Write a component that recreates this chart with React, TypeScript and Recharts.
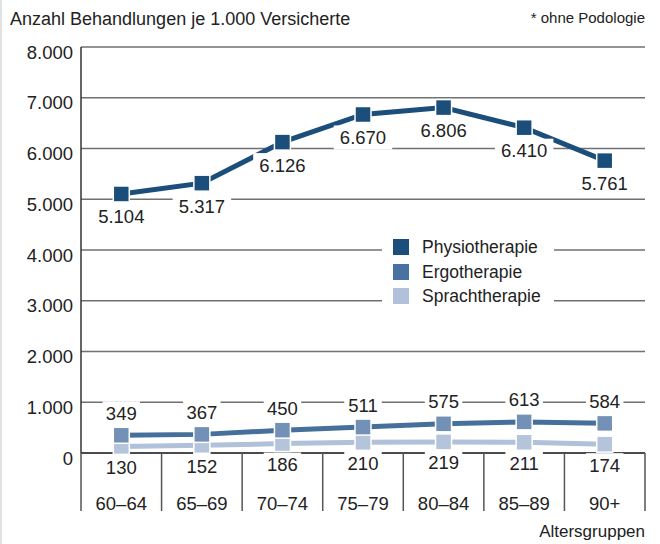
import React from 'react';
import { ComposedChart, Line, XAxis, YAxis, CartesianGrid, LabelList, Legend } from 'recharts';

const categories = ['60–64', '65–69', '70–74', '75–79', '80–84', '85–89', '90+'];
const physio = [5104, 5317, 6126, 6670, 6806, 6410, 5761];
const ergo = [349, 367, 450, 511, 575, 613, 584];
const sprach = [130, 152, 186, 210, 219, 211, 174];
const yTicks = [0, 1000, 2000, 3000, 4000, 5000, 6000, 7000, 8000];
const seriesNames = ['Physiotherapie', 'Ergotherapie', 'Sprachtherapie'];
const titleText = 'Anzahl Behandlungen je 1.000 Versicherte';
const noteText = '* ohne Podologie';
const xAxisTitle = 'Altersgruppen';

const data = categories.map((c, i) => ({ cat: c, physio: physio[i], ergo: ergo[i], sprach: sprach[i] }));

const W = 660;
const H = 544;
const MARGIN = { top: 47, right: 15, bottom: 31, left: 0 };
const Y_W = 81;
const X_H = 60;
const PLOT_W = W - MARGIN.left - MARGIN.right - Y_W;
const BAND = PLOT_W / categories.length;

const FONT = '"Liberation Sans", Arial, sans-serif';
const TXT = '#222';
const C_PHYSIO = '#1b4e7a';
const C_ERGO_LINE = '#46709b';
const C_ERGO_DOT = '#7391b6';
const C_ERGO_LEG = '#4a72a0';
const C_SPRACH_LINE = '#b0c1d9';
const C_SPRACH_DOT = '#b4c4db';

const fmt = (v: number) => String(v).replace(/\B(?=(\d{3})+(?!\d))/g, '.');

const makeDot = (color: string) => (props: any) => {
  const { cx, cy, index } = props;
  if (cx == null || cy == null) return <g key={index} />;
  return (
    <rect key={index} x={cx - 8} y={cy - 8} width={16} height={16} fill={color} stroke="#fff" strokeWidth={1.5} />
  );
};

const makeLabel = (dy: number) => (props: any) => {
  const { x, y, value, index } = props;
  const txt = fmt(Number(value));
  const w = txt.length * 10.5 + 6;
  return (
    <g key={index}>
      <rect x={x - w / 2} y={y + dy - 12} width={w} height={24} fill="#fff" />
      <text x={x} y={y + dy} textAnchor="middle" dominantBaseline="central" fontSize={18.5} fill={TXT} fontFamily={FONT}>
        {txt}
      </text>
    </g>
  );
};

const YTick = (props: any) => {
  const { x, y, payload } = props;
  return (
    <text x={x} y={y + 5} textAnchor="end" dominantBaseline="central" fontSize={18.5} fill={TXT} fontFamily={FONT}>
      {fmt(payload.value)}
    </text>
  );
};

const XTick = (props: any) => {
  const { x, y, payload, index } = props;
  const half = BAND / 2;
  return (
    <g>
      <line x1={x - half} x2={x - half} y1={y} y2={y + 58} stroke="#555" strokeWidth={1.5} />
      {index === categories.length - 1 && (
        <line x1={x + half} x2={x + half} y1={y} y2={y + 58} stroke="#555" strokeWidth={1.5} />
      )}
      <text x={x} y={y + 50} textAnchor="middle" dominantBaseline="central" fontSize={18.5} fill={TXT} fontFamily={FONT}>
        {payload.value}
      </text>
    </g>
  );
};

const legendColors = [C_PHYSIO, C_ERGO_LEG, C_SPRACH_LINE];

const LegendBox = () => (
  <div style={{ background: '#fff', width: 172, height: 78, paddingTop: 3, boxSizing: 'border-box' }}>
    {seriesNames.map((n, i) => (
      <div key={n} style={{ display: 'flex', alignItems: 'center', height: 24.5 }}>
        <div style={{ width: 16, height: 16, background: legendColors[i], marginLeft: 11, marginRight: 13 }} />
        <span style={{ fontFamily: FONT, fontSize: 17.5, color: TXT, lineHeight: '20px' }}>{n}</span>
      </div>
    ))}
  </div>
);

export default function App() {
  return (
    <div style={{ position: 'absolute', left: 0, top: 0, width: W, height: H, background: '#fff', overflow: 'hidden' }}>
      <div style={{ position: 'absolute', left: 0, top: 0, width: 2, height: H, background: '#e2e2e2' }} />
      <ComposedChart width={W} height={H} data={data} margin={MARGIN}>
        <CartesianGrid vertical={false} stroke="#707070" strokeWidth={1.3} />
        <XAxis
          dataKey="cat"
          scale="band"
          interval={0}
          height={X_H}
          tickLine={false}
          tickSize={0}
          tickMargin={0}
          axisLine={{ stroke: '#333', strokeWidth: 1.5 }}
          tick={<XTick />}
        />
        <YAxis
          width={Y_W}
          domain={[0, 8000]}
          ticks={yTicks}
          interval={0}
          tickLine={false}
          tickSize={0}
          tickMargin={8}
          axisLine={{ stroke: '#333', strokeWidth: 1.5 }}
          tick={<YTick />}
        />
        <Legend
          layout="vertical"
          align="center"
          verticalAlign="middle"
          wrapperStyle={{ position: 'absolute', left: 382, top: 232, width: 172, height: 78 }}
          content={() => <LegendBox />}
        />
        <Line
          dataKey="sprach"
          name={seriesNames[2]}
          stroke={C_SPRACH_LINE}
          strokeWidth={5}
          dot={makeDot(C_SPRACH_DOT)}
          activeDot={false}
          isAnimationActive={false}
        >
          <LabelList dataKey="sprach" content={makeLabel(21)} />
        </Line>
        <Line
          dataKey="ergo"
          name={seriesNames[1]}
          stroke={C_ERGO_LINE}
          strokeWidth={5}
          dot={makeDot(C_ERGO_DOT)}
          activeDot={false}
          isAnimationActive={false}
        >
          <LabelList dataKey="ergo" content={makeLabel(-22)} />
        </Line>
        <Line
          dataKey="physio"
          name={seriesNames[0]}
          stroke={C_PHYSIO}
          strokeWidth={5}
          dot={makeDot(C_PHYSIO)}
          activeDot={false}
          isAnimationActive={false}
        >
          <LabelList dataKey="physio" content={makeLabel(23)} />
        </Line>
      </ComposedChart>
      <div style={{ position: 'absolute', left: 10, top: 7, fontFamily: FONT, fontSize: 18, color: TXT, whiteSpace: 'nowrap', lineHeight: '24px' }}>
        {titleText}
      </div>
      <div style={{ position: 'absolute', right: 15, top: 7, fontFamily: FONT, fontSize: 15, color: TXT, whiteSpace: 'nowrap', lineHeight: '22px' }}>
        {noteText}
      </div>
      <div style={{ position: 'absolute', right: 15, top: 521, fontFamily: FONT, fontSize: 17, color: TXT, whiteSpace: 'nowrap', lineHeight: '22px' }}>
        {xAxisTitle}
      </div>
    </div>
  );
}
